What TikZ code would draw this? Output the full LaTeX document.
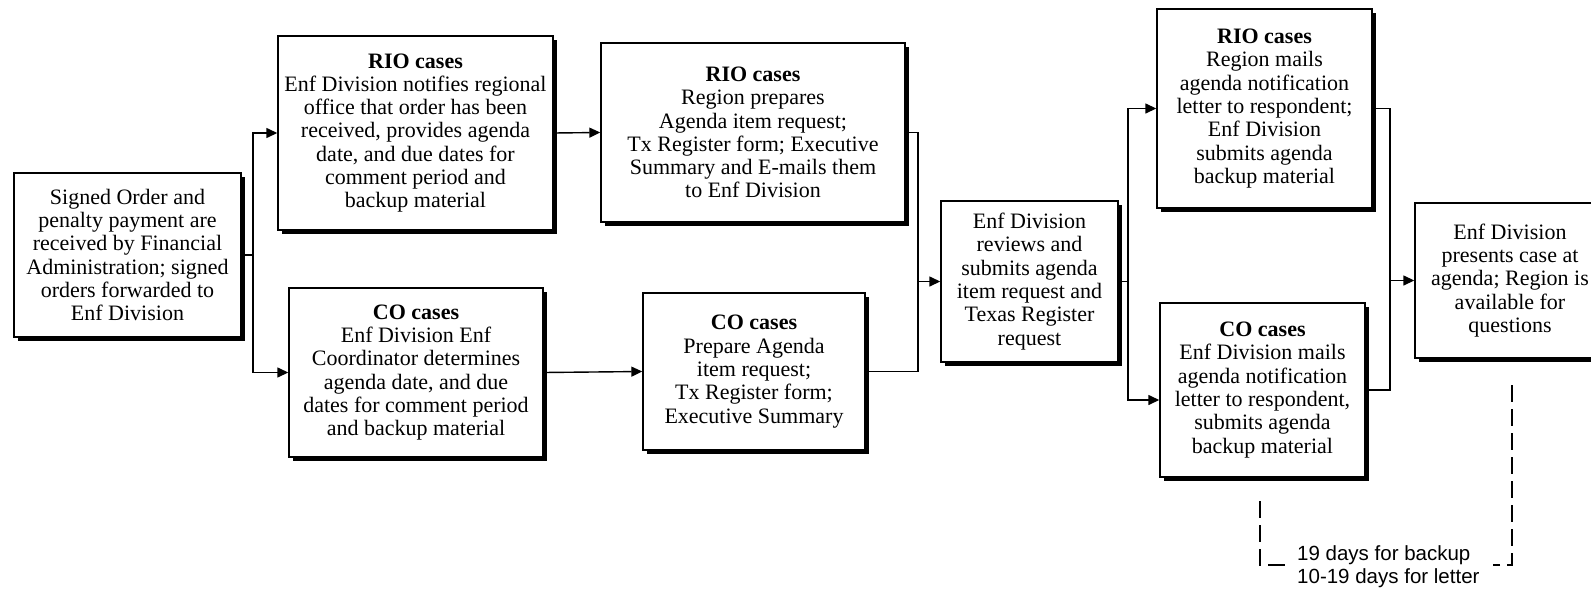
\documentclass[tikz,border=0pt]{standalone}
\usepackage{fontspec}
\setmainfont{Liberation Serif}
\newfontfamily\notefont{Liberation Sans}
\usetikzlibrary{arrows.meta,shadows,calc}

\tikzset{
  stepbox/.style={draw, line width=1.4pt, fill=white, inner sep=0pt, align=center,
    font=\fontsize{22}{23.3}\selectfont,
    drop shadow={shadow xshift=4pt, shadow yshift=-4pt, fill=black, opacity=1}},
  conn/.style={line width=1.4pt},
  arr/.style={conn, -{Triangle[length=11pt,width=10pt]}},
  bracket/.style={line width=1.4pt, dash pattern=on 17pt off 7pt},
  note/.style={font=\notefont\fontsize{20.5}{23}\selectfont, align=left, inner sep=0pt},
}

\begin{document}
\begin{tikzpicture}[x=1pt, y=-1pt]
\useasboundingbox (0,0) rectangle (1591,592);
\clip (0,0) rectangle (1591,592);

% process steps
\node[stepbox, minimum width=227pt, minimum height=164pt] (A) at (127.5,255)
  {Signed Order and\\penalty payment are\\received by Financial\\Administration; signed\\orders forwarded to\\Enf Division};

\node[stepbox, minimum width=275pt, minimum height=194pt] (rio1) at (415.5,133)
  {\textbf{RIO cases}\\Enf Division notifies regional\\office that order has been\\received, provides agenda\\date, and due dates for\\comment period and\\backup material};

\node[stepbox, minimum width=254pt, minimum height=169pt] (co1) at (416,372.5)
  {\textbf{CO cases}\\Enf Division Enf\\Coordinator determines\\agenda date, and due\\dates for comment period\\and backup material};

\node[stepbox, minimum width=304pt, minimum height=179pt] (rio2) at (753,132.5)
  {\textbf{RIO cases}\\Region prepares\\Agenda item request;\\Tx Register form; Executive\\Summary and E-mails them\\to Enf Division};

\node[stepbox, minimum width=222pt, minimum height=157pt] (co2) at (754,371.5)
  {\textbf{CO cases}\\Prepare Agenda\\item request;\\Tx Register form;\\Executive Summary};

\node[stepbox, minimum width=177pt, minimum height=161pt] (rev) at (1029.5,281.5)
  {Enf Division\\reviews and\\submits agenda\\item request and\\Texas Register\\request};

\node[stepbox, minimum width=215pt, minimum height=199pt] (rio3) at (1264.5,108.5)
  {\textbf{RIO cases}\\Region mails\\agenda notification\\letter to respondent;\\Enf Division\\submits agenda\\backup material};

\node[stepbox, minimum width=205pt, minimum height=174pt] (co3) at (1262.5,390)
  {\textbf{CO cases}\\Enf Division mails\\agenda notification\\letter to respondent,\\submits agenda\\backup material};

\node[stepbox, minimum width=190pt, minimum height=155pt] (pres) at (1510,280.5)
  {Enf Division\\presents case at\\agenda; Region is\\available for\\questions};

% split after the signed order
\coordinate (s1) at (253,0);
\draw[conn] (A.east) -- (s1 |- A.east);
\draw[arr] (s1 |- A.east) |- (rio1.west);
\draw[arr] (s1 |- A.east) |- (co1.west);

% straight links
\draw[arr] (rio1.east) -- (rio2.west);
\draw[arr] (co1.east) -- (co2.west);

% merge into the review step
\coordinate (j2) at (918,0);
\draw[conn] (rio2.east) -| (j2 |- co2.east) -- (co2.east);
\draw[arr] (j2 |- rev.west) -- (rev.west);

% split after the review step
\coordinate (s3) at (1128,0);
\draw[conn] (rev.east) -- (s3 |- rev.east);
\draw[arr] (s3 |- rev.east) |- (rio3.west);
\draw[arr] (s3 |- rev.east) |- ([yshift=-10pt]co3.west);

% merge into the final step
\coordinate (j4) at (1390,0);
\draw[conn] (rio3.east) -| (j4 |- co3.east) -- (co3.east);
\draw[arr] (j4 |- pres.west) -- (pres.west);

% timing bracket
\coordinate (bl1) at (1260,501);
\coordinate (bl2) at (1260,565);
\coordinate (bl3) at (1287,565);
\coordinate (br1) at (1512,385);
\coordinate (br2) at (1512,565);
\coordinate (br3) at (1493,565);
\draw[bracket] (bl1) -- (bl2) -- (bl3);
\draw[bracket] (br1) -- (br2) -- (br3);
\node[note, anchor=west] (days) at (1297,566.5) {19 days for backup\\10-19 days for letter};
\end{tikzpicture}
\end{document}
